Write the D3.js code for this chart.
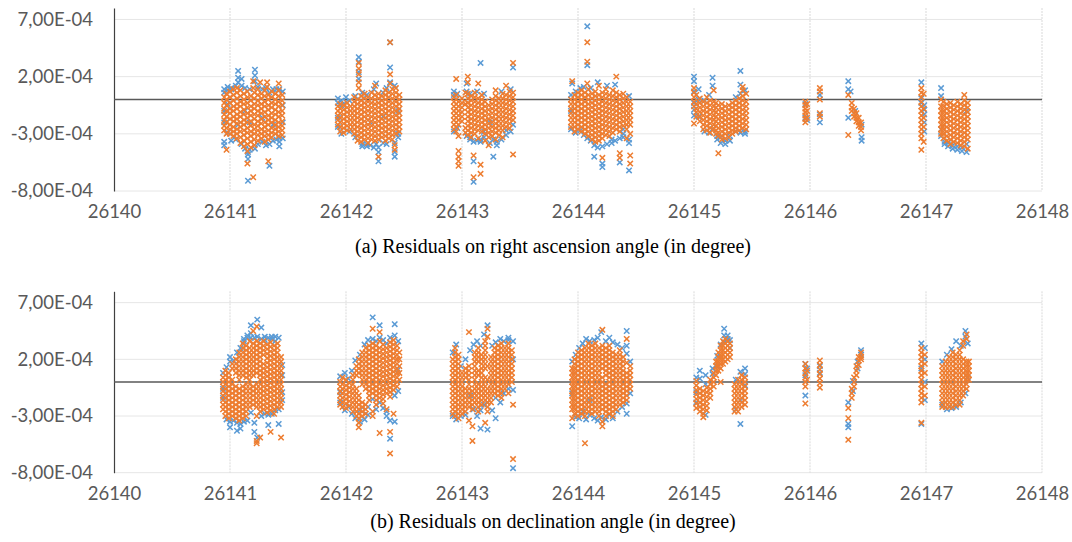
<!DOCTYPE html>
<html>
<head>
<meta charset="utf-8">
<script src="https://cdn.jsdelivr.net/npm/d3@7"></script>
<style>
  body { margin: 0; background: #fff; }
  svg { display: block; }
</style>
</head>
<body>
<svg id="chart" width="1072" height="542"></svg>
<script>
// days are stored as offsets from T0, residuals in units of RES_UNIT
const T0 = 26140;
const RES_UNIT = 1e-4;

const xTicks = [26140, 26141, 26142, 26143, 26144, 26145, 26146, 26147, 26148];
const yTicks = [-8e-4, -3e-4, 2e-4, 7e-4];
const captions = [
  "(a) Residuals on right ascension angle (in degree)",
  "(b) Residuals on declination angle (in degree)"
];

// each column: [day offset, residual, residual, ...]
// (a) right ascension, blue series
const raBlue = [
  [0.95, 0.6,0.9,-1.0,-2.0,-3.7,-4.0],[0.98, 1.1,0.8,-0.4,-2.9],[1.01, 0.9,1.0,-3.6],[1.05, 1.2,-3.5],
  [1.07, 2.5,1.9,1.5,-2.2],[1.10, 1.8,1.2,-3.9],[1.13, 1.0,-4.3,-1.0],[1.155, -7.1,-4.8,-5.2,-4.6],
  [1.17, 0.9,-4.4,-2.0],[1.215, 2.6,2.1,1.6,-4.3],[1.24, 1.1,-3.9],[1.28, 0.9,-3.7,-1.6],[1.31, 1.0,-4.0],
  [1.34, -5.8,-3.9,0.6],[1.37, 0.9,-3.6,-2.2],[1.40, 0.9,-3.5],[1.425, -4.1,-3.7,-3.4,0.9],[1.455, 0.7,-3.4,-2.0,-0.5],
  [1.93, 0.1,-0.3,-1.6,-2.4],[1.96, -0.1,-0.5,-3.0],[2.00, 0.2,-0.2],[2.03, -0.1,-2.8],[2.08, -3.3,0.3],
  [2.11, 3.7,3.3,2.4,1.8],[2.14, -3.9,-4.1,0.6],[2.18, -4.1,-3.9,0.4],[2.21, -4.0,-2.0],[2.24, 0.9,-4.2],
  [2.26, 1.4,-3.9],[2.28, -5.4,-4.6,-4.2],[2.32, -3.8,0.6,-1.5],[2.35, 1.0,-3.9],[2.38, 5.0,2.8,1.5],
  [2.42, -5.0,-4.6,-3.8,1.2],[2.45, -3.3,-3.0,-1.0],
  [2.93, 0.7,0.4,-2.8],[2.96, 0.5,-2.5],[3.04, 1.4,0.7,-3.2],[3.07, -3.5,-3.3,0.5],[3.10, -7.2,-5.4,-3.7],
  [3.13, 0.7,-3.6],[3.16, 3.2,-3.5,-3.7],[3.19, 0.5,-3.3,-2.8],[3.24, -3.8,-2.0],[3.27, -5.0,-3.5],
  [3.30, -3.7,-4.0],[3.34, 0.7,-3.5],[3.38, -3.1,-2.7],[3.42, 0.9,-2.8],[3.44, 2.8,-2.2],
  [3.94, 0.4,-1.0,-2.6],[3.95, 1.4],[3.98, 0.7,-2.9],[4.02, 1.0,-2.7],[4.05, 1.1,-3.1],[4.08, 6.4,3.0,-3.4],
  [4.11, -3.6,1.0],[4.14, -5.0,-4.0],[4.17, 1.5,-4.2],[4.21, -5.9,-5.6,-4.1],[4.25, 1.2,-3.9],
  [4.29, -3.5,-3.8],[4.32, 1.3,-3.6],[4.36, -5.5,-3.4],[4.39, -3.0,-3.3,-2.6],[4.44, -6.2,-3.8,-3.5,0.3],
  [5.00, 2.0,1.6,0.7,-0.3,-0.9,-1.4],[5.04, 0.9,-1.5,0.0],[5.09, -2.8,-0.1],[5.13, -2.9,0.4],
  [5.16, 1.9,1.2,-2.6],[5.20, -3.5,-3.2],[5.23, -3.8,-3.3],[5.27, -3.9,-3.6],[5.31, -3.6,-3.2],
  [5.36, 0.2,-2.8],[5.40, 2.5,1.3,0.5,-2.9],[5.44, 0.8,-2.8,-3.0],
  [5.96, -1.6,-0.4],[5.975, -1.8],[6.085, 0.4,-1.3,-2.0],[6.33, 1.6,0.9,-1.6],[6.35, 0.7],[6.39, -1.0],
  [6.445, -3.3,-3.6,-2.2],
  [6.96, 1.5,0.1,-0.3],[6.985, -0.5,-0.9,-1.3,-2.0,-2.8],[7.13, 1.0,0.3,-2.6,-3.2],[7.16, -3.7,-3.9],
  [7.19, -4.1,-3.8],[7.23, -4.3,-4.0],[7.27, -4.4,-4.1],[7.31, -4.2,-4.5],[7.35, -4.6,-3.9,-1.0]
];

// (a) right ascension, orange series
const raOrange = [
  [0.95, 0.2,-0.3,-0.8,-1.3,-1.8,-2.3,-2.7],[0.97, 0.5,0.0,-0.5,-1.0,-1.5,-2.0,-2.5,-3.0,-4.4],
  [1.00, 0.7,0.2,-0.3,-0.8,-1.2,-1.7,-2.2,-2.6,-3.0],[1.03, 0.9,0.4,-0.1,-0.6,-1.0,-1.5,-1.9,-2.4,-2.8,-3.2],
  [1.06, 1.0,0.6,0.1,-0.4,-0.8,-1.3,-1.7,-2.1,-2.6,-3.0,-3.4],[1.09, 0.8,0.3,-0.2,-0.6,-1.1,-1.5,-2.0,-2.4,-2.8,-3.3,-3.8],
  [1.12, 0.5,0.0,-0.4,-0.9,-1.3,-1.8,-2.2,-2.7,-3.1,-3.6,-4.1],[1.15, 0.7,0.2,-0.3,-0.7,-1.2,-1.6,-2.0,-2.5,-2.9,-3.4,-3.9,-4.5,-5.6],
  [1.18, 0.3,-0.1,-0.6,-1.0,-1.4,-1.9,-2.3,-2.8,-3.2,-3.7,-4.2],[1.20, 1.6,1.0,-6.8],
  [1.21, 0.6,0.1,-0.4,-0.8,-1.3,-1.7,-2.2,-2.6,-3.0,-3.5,-4.0],[1.24, 0.9,0.4,-0.1,-0.5,-1.0,-1.4,-1.9,-2.3,-2.7,-3.1,-3.6],
  [1.26, 1.5],[1.27, 0.5,0.1,-0.4,-0.8,-1.2,-1.7,-2.1,-2.6,-3.0,-3.4],
  [1.30, 0.8,0.3,-0.2,-0.6,-1.1,-1.5,-2.0,-2.4,-2.8,-3.2,-3.7],[1.32, 1.5,1.1],
  [1.33, 0.4,0.0,-0.5,-0.9,-1.4,-1.8,-2.2,-2.7,-3.1,-3.5,-5.4],[1.36, 0.7,0.2,-0.3,-0.7,-1.2,-1.6,-2.0,-2.5,-2.9,-3.3],
  [1.39, 0.5,0.0,-0.4,-0.9,-1.3,-1.8,-2.2,-2.6,-3.0],[1.42, 1.4,0.8,0.3,-0.2,-0.6,-1.1,-1.5,-2.0,-2.4,-2.8,-3.2],
  [1.45, 0.4,-0.1,-0.5,-1.0,-1.4,-1.9,-2.3,-2.7,-3.1],
  [1.93, -0.6,-1.0,-1.4,-1.8,-2.2],[1.95, -0.4,-0.8,-1.2,-1.6,-2.0,-2.4,-2.8],[1.98, -0.5,-0.9,-1.3,-1.7,-2.1,-2.5,-2.9],
  [2.01, -0.3,-0.7,-1.1,-1.5,-1.9,-2.3,-2.7],[2.04, -0.6,-1.0,-1.4,-1.8,-2.2,-2.6],
  [2.07, 0.2,-0.2,-0.6,-1.0,-1.4,-1.8,-2.2,-2.6,-3.0],[2.10, 0.0,-0.4,-0.8,-1.2,-1.6,-2.0,-2.4,-2.8,-3.2,-3.6],
  [2.11, 3.2,2.7,2.2,1.5,1.0],[2.13, 0.3,-0.1,-0.5,-0.9,-1.3,-1.7,-2.1,-2.5,-2.9,-3.3,-3.7],
  [2.16, 0.5,0.1,-0.3,-0.7,-1.1,-1.5,-1.9,-2.3,-2.7,-3.1,-3.5],[2.19, 0.2,-0.2,-0.6,-1.0,-1.4,-1.8,-2.2,-2.6,-3.0,-3.4,-3.8],
  [2.22, 0.6,0.1,-0.3,-0.7,-1.1,-1.5,-1.9,-2.3,-2.7,-3.1,-3.5],[2.25, 1.2,0.4,0.0,-0.4,-0.8,-1.2,-1.6,-2.0,-2.4,-2.8,-3.2,-3.6],
  [2.28, 0.5,0.1,-0.3,-0.7,-1.1,-1.5,-1.9,-2.3,-2.7,-3.1,-3.5,-5.0],[2.31, 0.3,-0.1,-0.5,-0.9,-1.3,-1.7,-2.1,-2.5,-2.9,-3.3],
  [2.34, 0.8,0.4,0.0,-0.4,-0.8,-1.2,-1.6,-2.0,-2.4,-2.8,-3.2,-3.6],[2.37, 0.6,0.2,-0.2,-0.6,-1.0,-1.4,-1.8,-2.2,-2.6,-3.0,-3.4],
  [2.38, 5.0,2.2,1.4],[2.40, 0.9,0.5,0.1,-0.3,-0.7,-1.1,-1.5,-1.9,-2.3,-2.7,-3.1,-3.5],[2.42, -4.4,-4.0],
  [2.43, 1.0,0.6,0.2,-0.2,-0.6,-1.0,-1.4,-1.8,-2.2,-2.6,-3.0],[2.46, 0.4,0.0,-0.4,-0.8,-1.2,-1.6,-2.0,-2.4,-2.8],
  [2.93, 0.2,-0.2,-0.6,-1.0,-1.4,-1.8,-2.2,-2.6],[2.95, 1.8,0.4,0.0,-0.4,-0.8,-1.2,-1.6,-2.0,-2.4,-2.8],
  [2.97, -0.2,-0.6,-1.0,-1.4,-1.8,-2.2,-3.2,-4.5,-5.0,-5.4,-5.8],[3.00, 0.1,-0.3,-0.7,-1.1,-1.5,-1.9],
  [3.03, 0.6,-0.4,-2.5,-2.9],[3.05, 2.0,1.5,0.5,0.1,-0.3,-0.7,-1.1,-1.5,-1.9,-2.3,-2.7,-3.1],
  [3.08, 0.3,-0.1,-0.5,-0.9,-1.3,-1.7,-2.1,-2.5,-2.9,-3.3],[3.10, -4.9,-6.8],
  [3.11, 0.6,0.2,-0.2,-0.6,-1.0,-1.4,-1.8,-2.2,-2.6,-3.0],[3.14, 1.4,0.1,-0.3,-0.7,-1.1,-1.5,-1.9,-2.3,-2.7,-3.4],
  [3.16, -6.5,-5.7],[3.17, 0.4,0.0,-0.4,-0.8,-1.2,-1.6,-2.0,-2.4,-2.8],
  [3.20, -0.2,-0.6,-1.0,-1.4,-1.8,-2.2,-2.6,-3.0,-3.6],[3.23, -0.5,-0.9,-1.3,-1.7,-2.1,-2.5,-2.9,-3.3,-4.0],
  [3.26, 0.0,-0.4,-0.8,-1.2,-1.6,-2.0,-2.4,-2.8,-3.2],[3.29, 0.8,0.3,-0.1,-0.5,-0.9,-1.3,-1.7,-2.1,-2.5,-2.9,-3.5],
  [3.32, 0.1,-0.3,-0.7,-1.1,-1.5,-1.9,-2.3,-2.7,-3.1],[3.35, 0.5,0.1,-0.3,-0.7,-1.1,-1.5,-1.9,-2.3,-2.7,-3.3],
  [3.38, 1.2,0.4,0.0,-0.4,-0.8,-1.2,-1.6,-2.0,-2.4],[3.41, 0.7,0.3,-0.1,-0.5,-0.9,-1.3,-1.7,-2.1,-2.5],
  [3.44, 3.2,0.6,0.2,-0.2,-0.6,-1.0,-1.4,-1.8,-4.8],
  [3.94, 0.0,-0.4,-0.8,-1.2,-1.6,-2.0,-2.4],[3.95, 1.6],[3.97, 0.4,0.0,-0.4,-0.8,-1.2,-1.6,-2.0,-2.4,-2.8],
  [4.00, 0.6,0.2,-0.2,-0.6,-1.0,-1.4,-1.8,-2.2,-2.6],[4.03, 0.8,0.4,0.0,-0.4,-0.8,-1.2,-1.6,-2.0,-2.4,-2.8],
  [4.06, 0.6,0.2,-0.2,-0.6,-1.0,-1.4,-1.8,-2.2,-2.6,-3.0],[4.08, 5.0,3.3,1.4],
  [4.09, 0.9,0.4,0.0,-0.4,-0.8,-1.2,-1.6,-2.0,-2.4,-2.8,-3.2],[4.12, 0.5,0.1,-0.3,-0.7,-1.1,-1.5,-1.9,-2.3,-2.7,-3.1,-3.5],
  [4.15, 0.7,0.3,-0.1,-0.5,-0.9,-1.3,-1.7,-2.1,-2.5,-2.9,-3.3,-3.7],[4.18, 1.2,0.4,0.0,-0.4,-0.8,-1.2,-1.6,-2.0,-2.4,-2.8,-3.2,-3.6],
  [4.21, 0.6,0.2,-0.2,-0.6,-1.0,-1.4,-1.8,-2.2,-2.6,-3.0,-3.4,-5.1],[4.24, 0.9,0.5,0.1,-0.3,-0.7,-1.1,-1.5,-1.9,-2.3,-2.7,-3.1],
  [4.27, 0.4,0.0,-0.4,-0.8,-1.2,-1.6,-2.0,-2.4,-2.8,-3.2],[4.30, 0.8,0.3,-0.1,-0.5,-0.9,-1.3,-1.7,-2.1,-2.5,-2.9],
  [4.33, 2.0,0.6,0.2,-0.2,-0.6,-1.0,-1.4,-1.8,-2.2,-2.6],[4.36, 0.4,0.0,-0.4,-0.8,-1.2,-1.6,-2.0,-2.4,-2.8,-4.7,-5.1],
  [4.39, 0.5,0.1,-0.3,-0.7,-1.1,-1.5,-1.9,-2.3],[4.42, 0.2,-0.2,-0.6,-1.0,-1.4,-1.8,-2.2,-2.6,-3.4],
  [4.45, -0.2,-0.6,-1.0,-1.4,-1.8,-2.2,-3.0,-4.9,-5.6],
  [5.00, 1.0,0.6,0.2,-0.2,-0.6,-2.1],[5.02, 0.4,-0.4,-0.8,-1.1,-1.5],[5.05, 0.1,-0.3,-0.7,-1.1,-1.5,-1.9],
  [5.08, -0.2,-0.6,-1.0,-1.4,-1.8,-2.2,-2.6],[5.11, 0.2,-0.3,-0.7,-1.1,-1.5,-1.9,-2.3,-2.7],
  [5.14, -0.1,-0.5,-0.9,-1.3,-1.7,-2.1,-2.5,-2.9],[5.17, 0.8,-0.2,-0.6,-1.0,-1.4,-1.8,-2.2,-2.6],
  [5.19, -0.3,-0.7,-1.1,-1.5,-1.9,-2.3,-2.7,-3.0],[5.21, -0.5,-0.9,-1.3,-1.7,-2.1,-2.5,-2.9,-3.2,-4.7],
  [5.24, -0.4,-0.8,-1.2,-1.6,-2.0,-2.4,-2.8,-3.2,-3.5],[5.27, -0.6,-1.0,-1.4,-1.8,-2.2,-2.6,-3.0,-3.4],
  [5.30, -0.5,-0.9,-1.3,-1.7,-2.1,-2.5,-2.9,-3.3],[5.33, -0.3,-0.7,-1.1,-1.5,-1.9,-2.3,-2.7,-3.0],
  [5.36, -0.1,-0.5,-0.9,-1.3,-1.7,-2.1,-2.5,-2.8],[5.39, 0.1,-0.3,-0.7,-1.1,-1.5,-1.9,-2.3,-2.7],
  [5.42, 1.1,0.8,0.3,-0.1,-0.5,-0.9,-1.3,-1.7,-2.1,-2.5],[5.45, 0.5,-0.2,-0.6,-1.0,-1.4,-1.8,-2.2,-2.6],
  [5.96, -0.2,-0.5,-0.8,-1.1,-1.4,-1.7,-2.0],[5.975, -0.4,-1.0,-1.6],[6.085, 1.0,0.7,0.0,-1.2,-1.5],
  [6.33, 0.4,-3.1],[6.36, -0.3,-0.7,-1.0],[6.38, -0.8,-1.2,-1.5],[6.40, -1.2,-1.6,-1.9],[6.42, -1.6,-2.0,-2.3],
  [6.44, -2.0,-2.4,-2.7],
  [6.96, 1.0,0.6,0.2,-0.2,-0.6,-1.0,-1.4,-1.8,-2.2,-2.6,-3.0,-3.4,-4.4],[6.98, 0.5,-0.8,-1.6,-2.4,-3.7],
  [7.13, 0.0,-0.6,-1.0,-1.4,-1.8,-2.2,-2.6,-3.0],[7.15, -0.2,-0.6,-1.0,-1.4,-1.8,-2.2,-2.6,-3.0,-3.4],
  [7.18, -0.4,-0.8,-1.2,-1.6,-2.0,-2.4,-2.8,-3.2,-3.6],[7.21, -0.3,-0.7,-1.1,-1.5,-1.9,-2.3,-2.7,-3.1,-3.5,-3.9],
  [7.24, -0.5,-0.9,-1.3,-1.7,-2.1,-2.5,-2.9,-3.3,-3.7],[7.27, -0.2,-0.6,-1.0,-1.4,-1.8,-2.2,-2.6,-3.0,-3.4,-3.8],
  [7.30, -0.4,-0.8,-1.2,-1.6,-2.0,-2.4,-2.8,-3.2,-3.6,-4.0],[7.33, 0.4,-0.1,-0.5,-0.9,-1.3,-1.7,-2.1,-2.5,-2.9,-3.3,-3.7,-4.1],
  [7.36, -0.3,-0.7,-1.1,-1.5,-1.9,-2.3,-2.7,-3.1,-3.5,-4.3]
];

// (b) declination, blue series
const decBlue = [
  [0.94, 0.8,-0.6,-1.4],[0.97, 1.3,-3.3],[1.00, 2.2,1.8,-4.0,-3.5],[1.03, 1.9,-3.4],[1.06, 2.6,-4.3,-3.6],
  [1.09, 3.0,-4.1,-3.7],[1.12, 3.8,3.6,-3.5],[1.15, 4.1,3.9,-3.4],[1.18, 5.0,4.3,3.9,-2.7],[1.21, 3.9,-4.4,-3.6],
  [1.235, 5.5,4.0,-4.9],[1.27, 4.8,3.8,-3.0],[1.30, 4.0,3.7,-2.8],[1.33, 3.9,-3.8,-2.9],[1.36, 3.8,4.0,-2.8],
  [1.39, 4.0,3.6,-2.5],[1.42, 3.9,-3.7,-2.4],[1.45, 1.5,0.6,-0.9,-1.6],
  [1.95, 0.5,-0.9,-1.8],[1.99, 0.8,-2.5],[2.02, 0.3,-2.2],[2.05, 1.0,-2.8],[2.08, 1.9,-3.2],[2.12, 2.4,-3.5,-2.5],
  [2.16, 3.3,-3.3],[2.19, 3.7,-2.9,-2.2],[2.23, 5.7,3.8,-1.5],[2.26, 3.6,-2.4],[2.29, 5.0,3.9,-1.8],
  [2.32, 3.7,-2.3],[2.35, 3.4,-3.0,-2.6],[2.38, 3.9,-5.0,-3.4],[2.42, 5.1,4.1,-1.2,-3.5],[2.45, 3.6,1.1,-0.8],
  [2.92, 2.6,-3.0],[2.95, 3.3,-3.3],[2.99, 1.4,-3.0],[3.03, 2.0,-2.9],[3.07, 2.8,-1.2],[3.10, 3.3,-2.4],
  [3.13, 3.6,-3.0],[3.16, 3.2,-2.5,-4.1],[3.19, 4.2,-2.0],[3.22, 5.0,-4.2,-1.8],[3.26, 3.2,-2.5],
  [3.29, 3.5,-1.4,-3.2],[3.33, 3.8,-1.8],[3.36, 3.6,-1.0],[3.40, 3.7,3.9,-0.6],[3.44, 3.6,2.0,-0.7,-7.6],
  [3.95, 1.8,-1.0,-3.9],[3.98, 2.4,-3.1],[4.01, 3.0,-3.2],[4.04, 3.4,-2.6],[4.07, 3.8,-3.3],[4.10, 3.6,-2.9,-1.6],
  [4.14, 3.7,-3.2],[4.17, 3.9,-3.4],[4.20, 4.4,-3.1],[4.24, 3.6,-3.3],[4.27, 3.9,-2.9],[4.30, 3.5,-3.2],
  [4.34, 3.3,-2.6],[4.38, 3.0,-2.2],[4.42, 4.5,3.2,2.5,-2.8,-1.9],[4.45, 1.8,-1.0],
  [5.02, 0.4,-0.9,-1.8],[5.05, 1.0,0.3],[5.10, 0.6,-0.2,-2.9],[5.16, 0.7,1.2],[5.20, 2.3,1.4],[5.23, 3.3,2.2],
  [5.26, 4.7,4.1,3.5],[5.29, 4.1,3.8],[5.31, 3.7,3.0],[5.36, 0.2,-2.4],[5.40, -3.7,-1.6,0.9],[5.44, 1.2,0.7,-0.3],
  [5.96, 1.6,-1.2,0.6],[5.975, 1.2],[6.085, 1.4,0.8],[6.33, -3.7,-4.0,-1.8],[6.37, -0.8,0.1],[6.41, 1.8,1.2],
  [6.44, 2.8,2.4],
  [6.96, 3.4,1.2,-3.7],[6.99, 3.0,2.0,0.0,-1.6],[7.14, 1.8,-2.0],[7.18, 2.4,-2.4],[7.22, 2.9,-2.3],
  [7.26, 3.6,-2.2],[7.30, 3.2,-1.8],[7.34, 4.5,4.0,-1.0],[7.36, 3.4,0.4]
];

// (b) declination, orange series
const decOrange = [
  [0.94, 0.4,0.0,-0.4,-0.8,-1.2,-1.6,-2.0,-2.4],[0.96, 1.0,0.6,0.2,-0.2,-0.6,-1.0,-1.4,-1.8,-2.2,-2.6,-3.0],
  [0.99, 0.8,0.4,0.0,-0.4,-0.8,-1.2,-1.6,-2.0,-2.4,-2.8,-3.2],[1.02, 1.6,1.2,0.2,-0.2,-0.6,-1.0,-1.4,-1.8,-2.2,-2.6,-3.0],
  [1.05, 2.0,1.6,1.2,0.8,-0.4,-0.8,-1.2,-1.6,-2.0,-2.4,-2.8,-3.2],
  [1.08, 2.6,2.2,1.8,1.4,1.0,0.6,0.2,-0.6,-1.0,-1.4,-1.8,-2.2,-2.6,-3.0,-3.4],
  [1.11, 3.4,3.0,2.6,2.2,1.8,1.4,1.0,0.6,-0.4,-0.8,-1.2,-1.6,-2.0,-2.4,-2.8,-3.2],
  [1.14, 3.2,2.8,2.4,2.0,1.6,1.2,0.8,0.4,-0.2,-0.6,-1.0,-1.4,-1.8,-2.2,-2.6,-3.0],
  [1.17, 3.6,3.0,2.6,2.2,1.8,1.4,1.0,0.6,0.2,-0.2,-0.6,-1.0,-1.4,-1.8,-2.2],
  [1.20, 4.5,3.4,3.0,2.6,2.2,1.8,1.4,1.0,0.6,-0.4,-0.8,-1.2,-1.6,-2.0],
  [1.23, 4.9,3.6,3.2,2.8,2.4,2.0,1.6,1.2,0.8,-0.2,-0.6,-1.0,-1.4,-1.8,-2.2,-3.0,-5.2,-5.4],
  [1.26, 3.4,3.0,2.6,2.2,1.8,1.4,1.0,0.6,0.2,-0.2,-0.6,-1.0,-1.4,-1.8,-2.2,-2.6,-4.9],
  [1.29, 3.6,3.2,2.8,2.4,1.6,1.2,0.8,0.4,0.0,-0.4,-0.8,-1.2,-1.6,-2.0,-2.4],
  [1.32, 3.3,2.9,2.5,2.1,1.7,1.3,0.9,0.5,0.1,-0.3,-0.7,-1.1,-1.5,-1.9,-2.3,-2.7],
  [1.35, 3.5,3.1,2.7,2.3,1.9,1.5,1.1,0.7,0.3,-0.1,-0.5,-0.9,-1.3,-1.7,-2.1,-2.5,-4.4],
  [1.38, 3.2,2.8,2.4,2.0,1.6,1.2,0.8,0.4,0.0,-0.4,-0.8,-1.2,-1.6,-2.0,-2.4,-2.8],
  [1.41, 3.4,3.0,2.6,2.2,1.8,1.4,1.0,0.6,0.2,-0.2,-0.6,-1.0,-1.4,-1.8,-2.2],
  [1.44, 2.2,1.8,1.4,1.0,0.6,0.2,-0.2,-0.6,-1.0,-1.4,-1.8,-2.2,-4.9],
  [1.95, 0.0,-0.4,-0.8,-1.2,-1.6,-2.0],[1.97, 0.4,-0.2,-0.6,-1.0,-1.4,-1.8,-2.2],[2.00, 0.2,-0.3,-0.7,-1.1,-1.5,-1.9,-2.3],
  [2.03, -0.1,-0.5,-0.9,-1.3,-1.7,-2.1],[2.06, 0.6,0.2,-0.2,-0.6,-1.0,-1.4,-1.8,-2.2,-2.6],
  [2.09, 1.4,1.0,0.6,-0.6,-1.0,-1.4,-1.8,-2.2,-2.6,-3.0],[2.11, 2.0,1.6,1.2,0.8,-1.2,-1.6,-2.0,-2.4,-2.8,-3.2,-3.6,-4.0],
  [2.14, 2.6,2.2,1.8,1.4,1.0,0.6,0.2,-0.2,-1.8,-2.2,-2.6,-3.0],[2.17, 3.0,2.6,2.2,1.8,1.4,1.0,0.6,0.2,-0.2,-0.6,-2.0,-2.4,-2.8],
  [2.20, 3.2,2.8,2.4,2.0,1.6,1.2,0.8,0.4,0.0,-0.4,-0.8,-1.2,-1.6],
  [2.23, 4.7,3.4,3.0,2.6,2.2,1.8,1.4,1.0,0.6,0.2,-0.2,-0.6,-1.0,-2.6,-3.0],
  [2.26, 3.2,2.8,2.4,2.0,1.6,1.2,0.8,0.4,0.0,-0.4,-0.8,-1.2,-1.6,-2.0],
  [2.29, 4.4,3.6,3.0,2.6,2.2,1.8,1.4,1.0,0.6,0.2,-0.2,-0.6,-1.0,-1.4,-4.5],
  [2.32, 3.3,2.9,2.5,2.1,1.7,1.3,0.9,0.5,0.1,-0.3,-0.7,-1.1,-1.5,-1.9],
  [2.35, 3.0,2.6,2.2,1.8,1.4,1.0,0.6,0.2,-0.2,-0.6,-1.0,-2.4],
  [2.38, 3.5,3.1,2.7,2.3,1.9,1.5,1.1,0.7,0.3,-0.1,-0.5,-0.9,-1.3,-4.4,-6.3],
  [2.41, 3.7,3.3,2.9,2.5,2.1,1.7,1.3,0.9,0.5,0.1,-0.3,-0.7,-2.8],
  [2.44, 3.2,2.8,2.4,2.0,1.6,1.2,0.8,0.4,0.0,-0.4],[2.46, 2.6,2.0,1.4,0.8,0.2],
  [2.92, 2.0,1.6,1.2,0.8,0.4,0.0,-0.4,-0.8,-1.2,-1.6,-2.0,-2.4,-2.8],
  [2.94, 3.0,2.6,2.2,1.8,1.4,1.0,0.6,0.2,-0.2,-0.6,-1.0,-1.4,-1.8,-2.2,-2.6,-3.0],
  [2.97, 2.4,2.0,1.6,1.2,0.8,0.4,0.0,-0.4,-0.8,-1.2,-1.6,-2.0,-2.4,-2.8,-3.2],
  [3.00, 0.8,0.4,0.0,-0.4,-0.8,-1.2,-1.6,-2.0,-2.4,-2.8],[3.03, 1.2,0.8,0.4,-0.6,-1.0,-1.4,-1.8,-2.2,-2.6],
  [3.06, 4.4,1.4,1.0,0.6,0.2,-0.2,-0.6,-1.0,-1.4,-1.8,-2.2,-3.4],[3.09, -0.8,-1.2,-1.6,-2.0,-2.4,-3.9,-5.2],
  [3.11, 2.6,2.2,1.8,1.4,1.0,0.6,0.2,-0.2,-0.6,-1.0,-1.4,-1.8],
  [3.14, 3.0,2.6,2.2,1.8,1.0,0.6,-0.2,-0.6,-1.0,-1.4,-1.8,-2.2,-2.6],
  [3.17, 2.4,2.0,1.6,1.2,0.8,0.4,0.0,-0.4,-0.8,-1.2,-1.6,-2.0],
  [3.20, 3.6,3.2,2.8,2.4,2.0,1.6,1.2,0.4,0.0,-0.4,-0.8,-1.2,-1.6,-3.6],
  [3.22, 4.7,4.0,1.4,0.2,-0.6,-1.0,-1.4,-1.8,-2.2,-2.6],[3.25, 2.2,1.8,1.4,1.0,0.6,0.2,-0.2,-0.6,-1.0,-1.4,-1.8],
  [3.28, 3.0,2.6,2.2,1.8,1.4,1.0,0.6,0.2,-0.2,-0.6,-1.0],[3.31, 3.2,2.8,2.4,2.0,1.6,1.2,0.8,0.4,0.0,-0.4,-0.8,-1.2],
  [3.34, 3.4,3.0,2.6,2.2,1.8,1.4,1.0,0.6,0.2,-0.2,-0.6,-1.0,-1.4],[3.37, 3.0,2.6,2.2,1.8,1.4,1.0,0.6,0.2,-0.2,-0.6],
  [3.40, 3.4,3.0,2.6,2.2,1.8,1.4,1.0,0.6,0.2,-0.2,-1.0],[3.43, 2.8,2.4,2.0,1.6,1.2,0.8,0.4,0.0],[3.44, -2.0,-6.8],
  [3.95, 1.2,0.8,0.4,0.0,-0.4,-0.8,-1.2,-1.6,-2.0,-2.4,-3.2],[3.97, 2.0,1.6,1.2,0.8,0.4,0.0,-0.4,-0.8,-1.2,-1.6,-2.0,-2.4,-2.8],
  [4.00, 2.6,2.2,1.8,1.4,1.0,0.6,0.2,-0.2,-0.6,-1.0,-1.4,-1.8,-2.2,-2.6,-3.0],
  [4.03, 2.8,2.4,2.0,1.6,1.2,0.8,0.4,0.0,-0.4,-0.8,-1.2,-1.6,-2.0,-2.4,-2.8],
  [4.06, 3.0,2.6,2.2,1.8,1.4,1.0,0.6,0.2,-0.2,-0.6,-1.0,-1.4,-1.8,-2.2,-2.6,-3.0,-5.4],
  [4.09, 3.4,3.0,2.6,2.2,1.8,1.4,1.0,0.6,0.2,-0.2,-0.6,-1.0,-1.4,-1.8,-2.2,-2.6],
  [4.12, 3.2,2.8,2.4,2.0,1.6,1.2,0.8,0.4,0.0,-0.4,-0.8,-1.2,-1.6,-2.0,-2.4,-2.8],
  [4.15, 3.4,3.0,2.6,2.2,1.8,1.4,1.0,0.6,0.2,-0.2,-0.6,-1.0,-1.4,-1.8,-2.2,-2.6],
  [4.18, 3.0,2.6,2.2,1.8,1.4,1.0,0.6,0.2,-0.2,-0.6,-1.0,-1.4,-1.8,-2.2,-2.6,-3.0],
  [4.21, 4.6,3.2,2.8,2.4,2.0,1.6,1.2,0.4,0.0,-0.4,-0.8,-1.2,-1.6,-2.0,-2.4,-3.5,-3.9],
  [4.24, 3.0,2.6,2.2,1.8,1.4,1.0,0.6,-0.2,-0.6,-1.0,-1.4,-1.8,-2.2,-2.6,-3.0],
  [4.27, 3.2,2.8,2.4,2.0,1.6,1.2,0.8,0.4,0.0,-0.4,-0.8,-1.2,-1.6,-2.0,-2.4,-2.8],
  [4.30, 2.6,2.2,1.8,1.4,1.0,0.6,0.2,-0.2,-0.6,-1.0,-1.4,-1.8,-2.2,-2.6,-3.0],
  [4.33, 2.4,2.0,1.6,1.2,0.8,0.4,0.0,-0.4,-0.8,-1.2,-1.6,-2.0,-2.4],
  [4.36, 2.8,2.4,2.0,1.6,1.2,0.8,0.4,0.0,-0.4,-0.8,-1.2,-1.6,-2.0],
  [4.39, 2.2,1.8,1.4,1.0,0.6,0.2,-0.2,-0.6,-1.0,-1.4,-1.8],[4.42, 3.8,1.7,0.8,0.4,0.0,-0.4,-0.8,-1.2,-1.6],
  [4.45, 1.4,1.0,0.6,0.2,-0.2,-0.6],
  [5.02, 0.1,-0.3,-0.7,-1.1,-1.5,-1.9,-2.3],[5.05, -0.6,-1.0,-1.4,-1.8,-2.2,-2.6],[5.08, -0.8,-1.2,-1.6,-2.0,-2.4,-2.8,-3.1],
  [5.11, -0.5,-0.9,-1.3,-1.7,-2.1,-2.5],[5.14, 0.2,-0.2,-0.6,-1.0,-1.4],[5.17, 0.8,0.4,0.0,-0.4],
  [5.19, 1.8,1.4,1.0,0.6],[5.21, 2.6,2.2,1.8,1.4,1.0],[5.23, 3.2,2.8,2.4,2.0,1.6,1.2,0.0],
  [5.25, 3.6,3.2,2.8,2.4,2.0,1.6],[5.27, 3.8,3.4,3.0,2.6,2.2,1.8],[5.29, 3.6,3.2,2.8,2.4,2.0],[5.31, 3.4,3.0,2.6,2.2],
  [5.35, -0.2,-0.6,-1.0,-1.4,-1.8,-2.2,-2.6],[5.38, 0.2,-0.2,-0.6,-1.0,-1.4,-1.8,-2.2,-2.6],
  [5.41, 0.6,0.2,-0.2,-0.6,-1.0,-1.4,-1.8,-2.2],[5.44, 0.4,0.0,-0.4,-0.8,-1.2,-1.6,-2.0],
  [5.96, 1.6,1.2,0.8,0.4,0.0,-0.4,-1.9],[5.975, 1.0,0.2],[6.085, 1.9,1.5,1.1,0.7,0.3,-0.1,-0.5],
  [6.33, -5.1,-2.3,-3.2],[6.36, -1.4,-1.0,-0.6],[6.38, -0.4,0.0,0.4],[6.40, 0.6,1.0,1.4],[6.42, 1.5,1.9,2.2],
  [6.44, 2.2,2.6,2.0],
  [6.96, 3.0,2.6,2.2,1.8,1.4,1.0,0.6,0.2,-0.2,-0.6,-1.0,-1.4,-1.8,-3.6],[6.99, 2.4,1.6,0.8,-0.4,-1.2],
  [7.14, 1.4,1.0,0.6,0.2,-0.2,-0.6,-1.0,-1.4,-1.8,-2.2],[7.17, 1.8,1.4,1.0,0.6,0.2,-0.2,-0.6,-1.0,-1.4,-1.8,-2.2],
  [7.20, 2.2,1.8,1.4,1.0,0.6,0.2,-0.2,-0.6,-1.0,-1.4,-1.8,-2.2],
  [7.23, 2.6,2.2,1.8,1.4,1.0,0.6,0.2,-0.2,-0.6,-1.0,-1.4,-1.8,-2.2],
  [7.26, 2.4,2.0,1.6,1.2,0.8,0.4,0.0,-0.4,-0.8,-1.2,-1.6,-2.0],
  [7.29, 2.8,2.4,2.0,1.6,1.2,0.8,0.4,0.0,-0.4,-0.8,-1.2,-1.6,-2.0],
  [7.32, 3.6,3.2,2.0,1.6,1.2,0.8,0.4,0.0,-0.4,-0.8,-1.2],[7.35, 4.2,3.8,1.8,1.4,1.0,0.6,0.2,-0.2,-0.6],
  [7.37, 1.8,1.4,1.0,0.6,0.2]
];

const BLUE = "#5b9bd5";
const ORANGE = "#ed7d31";
const TEXT = "#595959";

const svg = d3.select("#chart");

// Excel style "7,00E-04"
function sciComma(v) {
  const parts = v.toExponential(2).split("e");
  const e = +parts[1];
  return parts[0].replace(".", ",") + "E" + (e < 0 ? "-" : "+") + String(Math.abs(e)).padStart(2, "0");
}

function toPoints(cols) {
  const pts = [];
  cols.forEach(c => {
    for (let i = 1; i < c.length; i++) pts.push([T0 + c[0], c[i] * RES_UNIT]);
  });
  return pts;
}

const x = d3.scaleLinear().domain([26140, 26148]).range([114, 1042]);

const panels = [
  { top: 8, bottom: 191, blue: raBlue, orange: raOrange, caption: captions[0], capY: 253 },
  { top: 291.3, bottom: 472.7, blue: decBlue, orange: decOrange, caption: captions[1], capY: 528 }
];

const cross = "M-2.7,-2.7L2.7,2.7M-2.7,2.7L2.7,-2.7";

panels.forEach(p => {
  const y = d3.scaleLinear().domain([-8e-4, 8e-4]).range([p.bottom, p.top]);
  const g = svg.append("g");

  // horizontal gridlines
  g.selectAll("line.hgrid")
    .data(yTicks)
    .enter()
    .append("line")
    .attr("x1", x.range()[0])
    .attr("x2", x.range()[1])
    .attr("y1", d => y(d))
    .attr("y2", d => y(d))
    .attr("stroke", "#e6e6e6")
    .attr("stroke-width", 1);

  // vertical dotted gridlines
  g.selectAll("line.vgrid")
    .data(xTicks.slice(1))
    .enter()
    .append("line")
    .attr("x1", d => x(d))
    .attr("x2", d => x(d))
    .attr("y1", p.top)
    .attr("y2", p.bottom)
    .attr("stroke", "#d9d9d9")
    .attr("stroke-dasharray", "2,1");

  // y axis with labels
  const yAxis = d3.axisLeft(y)
    .tickValues(yTicks)
    .tickSize(0)
    .tickPadding(21)
    .tickFormat(sciComma);
  const ya = g.append("g").attr("transform", `translate(${x.range()[0]},0)`).call(yAxis);
  ya.select(".domain").attr("stroke", "#404040").attr("stroke-width", 1.2);
  ya.selectAll("text")
    .attr("fill", TEXT)
    .style("font-family", "Lato, 'Open Sans', sans-serif")
    .style("font-size", "18.5px");

  // x axis labels
  const xAxis = d3.axisBottom(x).tickValues(xTicks).tickSize(0).tickPadding(14).tickFormat(d3.format("d"));
  const xa = g.append("g").attr("transform", `translate(0,${p.bottom})`).call(xAxis);
  xa.select(".domain").remove();
  xa.selectAll("text")
    .attr("fill", TEXT)
    .style("font-family", "Lato, 'Open Sans', sans-serif")
    .style("font-size", "18.5px");

  // zero line
  g.append("line")
    .attr("x1", x.range()[0])
    .attr("x2", x.range()[1])
    .attr("y1", y(0))
    .attr("y2", y(0))
    .attr("stroke", "#595959")
    .attr("stroke-width", 1.4);

  // series: blue first, orange drawn over it
  [[p.blue, BLUE], [p.orange, ORANGE]].forEach(([cols, color]) => {
    g.append("g")
      .selectAll("path")
      .data(toPoints(cols))
      .enter()
      .append("path")
      .attr("d", cross)
      .attr("transform", d => `translate(${x(d[0])},${y(d[1])})`)
      .attr("fill", "none")
      .attr("stroke", color)
      .attr("stroke-width", 1.5);
  });

  // caption
  svg.append("text")
    .attr("x", 553)
    .attr("y", p.capY)
    .attr("text-anchor", "middle")
    .attr("fill", "#000")
    .style("font-family", "'Liberation Serif', 'Times New Roman', serif")
    .style("font-size", "20px")
    .text(p.caption);
});
</script>
</body>
</html>
